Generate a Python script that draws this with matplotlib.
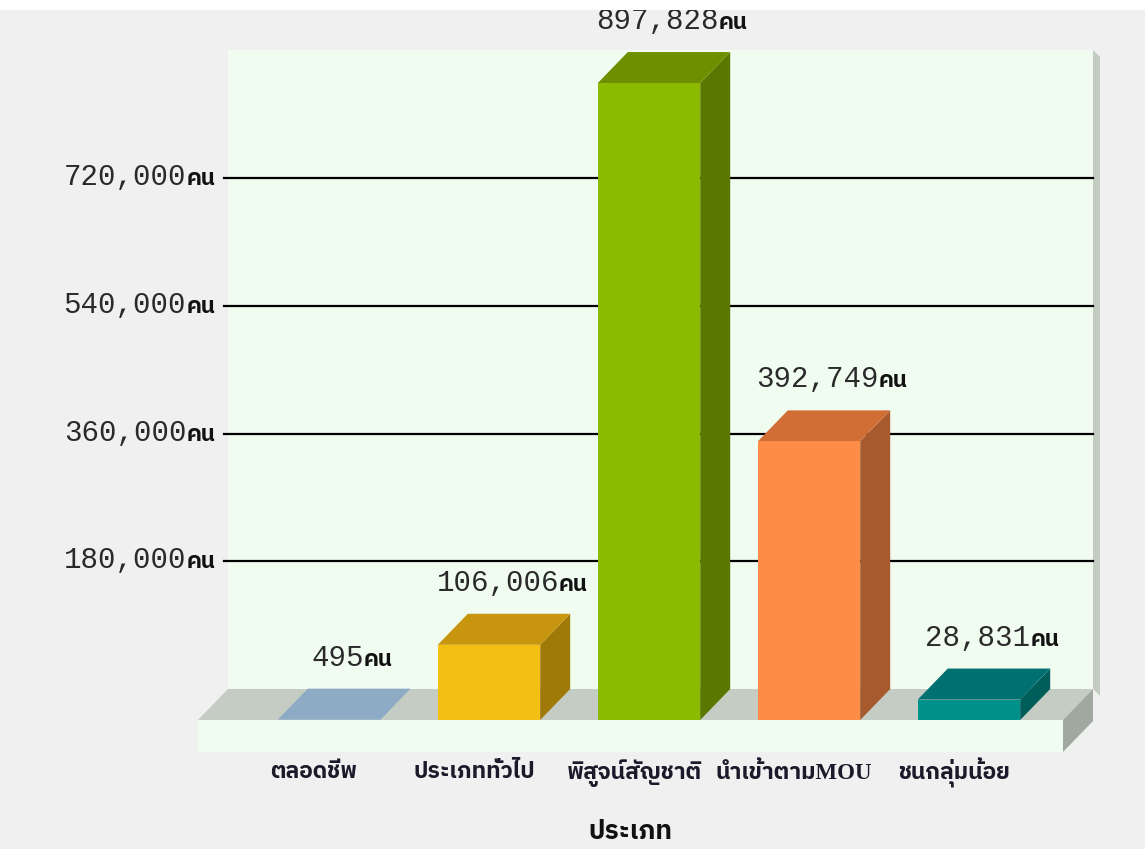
import matplotlib
matplotlib.use('Agg')
import matplotlib.pyplot as plt
from matplotlib import font_manager
from matplotlib.ft2font import FT2Font
from matplotlib.patches import Polygon, Rectangle

# data
categories = ['ตลอดชีพ', 'ประเภททั่วไป', 'พิสูจน์สัญชาติ', 'นำเข้าตามMOU', 'ชนกลุ่มน้อย']
values = [495, 106006, 897828, 392749, 28831]
ticks = [180000, 360000, 540000, 720000]
unit = 'คน'
axis_title = 'ประเภท'

# front / top / side colours for each bar
front_colors = ['#8fb0c9', '#f5be12', '#8cba00', '#ff8c46', '#00918a']
top_colors = ['#8dabc5', '#c8960e', '#6e9000', '#d06e35', '#007070']
side_colors = ['#7a96ad', '#a07a08', '#5a7800', '#a65a2d', '#005e5a']


def find_thai_font():
    found = []
    for f in font_manager.fontManager.ttflist:
        try:
            if 0x0E04 in FT2Font(f.fname).get_charmap():
                found.append(f.name)
        except Exception:
            pass
    if not found:
        return 'DejaVu Sans'
    found.sort(key=lambda n: ('Thai' not in n, n))
    return found[0]


thai = find_thai_font()
mono = 'Liberation Mono'

W, H = 1145, 849
fig = plt.figure(figsize=(W / 100, H / 100), dpi=100, facecolor='#f0f0f0')
ax = fig.add_axes([0, 0, 1, 1])
ax.axis('off')

# pixel layout -> data units
k = 180000 / 127.7      # value per pixel
cw = 160.0              # pixels per category
x0px, y0px = 329, 720   # first bar centre, front baseline
ax.set_xlim(-x0px / cw, (W - x0px) / cw)
ax.set_ylim((y0px - H) * k, y0px * k)

DX = 30 / cw
DY = 31 * k
hw = 0.32
wall_l, wall_r = (228 - x0px) / cw, (1093 - x0px) / cw
wall_top = (y0px - 50) * k
strip = 32 * k
num_style = dict(fontsize=21, family=[mono, thai], color='#2a2a2a', va='baseline', zorder=5)
kn_style = dict(fontsize=16, family=[thai, 'DejaVu Sans'], weight='bold', color='#111111',
                va='baseline', zorder=5)

# back wall
ax.add_patch(Rectangle((wall_l, DY), wall_r - wall_l, wall_top - DY,
                       facecolor='#f1fcf1', edgecolor='none', zorder=1))
ax.add_patch(Polygon([(wall_r, wall_top), (wall_r + 7 / cw, wall_top - 7 * k),
                      (wall_r + 7 / cw, DY - 7 * k), (wall_r, DY)],
                     closed=True, facecolor='#c3cbc3', edgecolor='none', zorder=1))

# floor
ax.add_patch(Polygon([(wall_l, DY), (wall_r, DY), (wall_r - DX, 0), (wall_l - DX, 0)],
                     closed=True, facecolor='#c4ccc4', edgecolor='none', zorder=2))
ax.add_patch(Rectangle((wall_l - DX, -strip), wall_r - wall_l, strip,
                       facecolor='#f1fcf1', edgecolor='none', zorder=2))
ax.add_patch(Polygon([(wall_r - DX, 0), (wall_r, DY), (wall_r, DY - strip), (wall_r - DX, -strip)],
                     closed=True, facecolor='#a0a8a0', edgecolor='none', zorder=2))

# gridlines and tick labels (number + bold unit)
for t in ticks:
    ax.plot([(224 - x0px) / cw, wall_r], [DY + t, DY + t], color='black', lw=1.6, zorder=1.5)
    yb = DY + t - 7 * k
    kn = ax.text((215 - x0px) / cw, yb, unit, ha='right', **kn_style)
    ax.annotate(f'{t:,}', xy=(0, yb), xycoords=(kn, 'data'), ha='right', **num_style)

# bars
for i, (cat, v) in enumerate(zip(categories, values)):
    l, r = i - hw, i + hw
    ax.add_patch(Polygon([(r, 0), (r + DX, DY), (r + DX, v + DY), (r, v)], closed=True,
                         facecolor=side_colors[i], edgecolor='none', zorder=3))
    ax.add_patch(Polygon([(l, v), (l + DX, v + DY), (r + DX, v + DY), (r, v)], closed=True,
                         facecolor=top_colors[i], edgecolor='none', zorder=3))
    ax.add_patch(Rectangle((l, 0), 2 * hw, v, facecolor=front_colors[i],
                           edgecolor='none', zorder=4))
    # value label: invisible full string gives the centred extent
    yb = v + DY + 23 * k
    full = ax.text(i + DX * 0.9, yb, f'{v:,}{unit}', ha='center', alpha=0, **num_style)
    num = ax.annotate(f'{v:,}', xy=(0, yb), xycoords=(full, 'data'), ha='left', **num_style)
    ax.annotate(unit, xy=(1, yb), xycoords=(num, 'data'), ha='left', **kn_style)
    ax.text(i - DX / 2, -53 * k, cat, ha='center', va='center', fontsize=16.5,
            family=['Liberation Serif', thai], weight='bold', color='#1a1a2a')

ax.text((wall_l - DX + wall_r - DX) / 2, -112 * k, axis_title, ha='center', va='center',
        fontsize=19, family=[thai, 'DejaVu Sans'], weight='bold', color='#111111')

# white strip along the top
fig.patches.append(Rectangle((0, 1 - 10 / H), 1, 10 / H, transform=fig.transFigure,
                             facecolor='white', edgecolor='none'))

fig.savefig('out.png', dpi=100, facecolor=fig.get_facecolor())
